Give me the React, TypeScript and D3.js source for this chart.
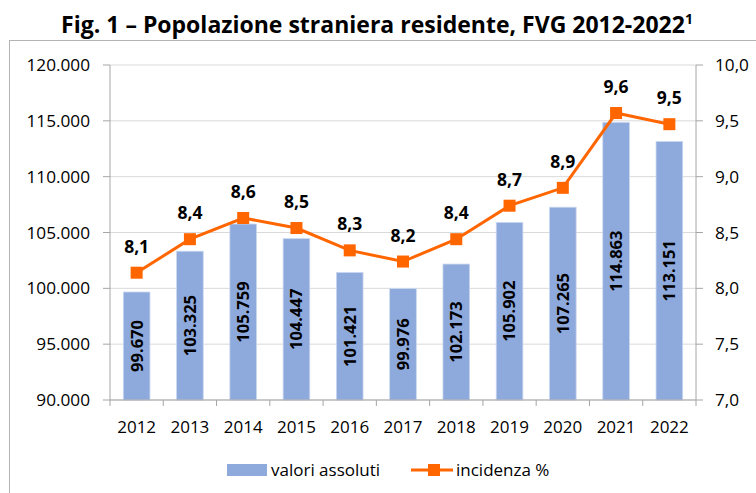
import React from "react";
import * as d3 from "d3";

const years = ["2012", "2013", "2014", "2015", "2016", "2017", "2018", "2019", "2020", "2021", "2022"];
const valoriAssoluti = [99670, 103325, 105759, 104447, 101421, 99976, 102173, 105902, 107265, 114863, 113151];
const incidenza = [8.14, 8.44, 8.63, 8.54, 8.34, 8.24, 8.44, 8.74, 8.9, 9.57, 9.47];
const leftTicks = [90000, 95000, 100000, 105000, 110000, 115000, 120000];
const rightTicks = [7.0, 7.5, 8.0, 8.5, 9.0, 9.5, 10.0];
const titleMain = "Fig. 1 – Popolazione straniera residente, FVG 2012-2022";
const titleSup = "1";
const legendLabels = ["valori assoluti", "incidenza %"];

const W = 756;
const H = 493;
const plot = { left: 110, right: 696, top: 65, bottom: 400 };
const FONT = "'Open Sans', sans-serif";
const BAR = "#8EA9DB";
const ORANGE = "#FF6600";

const itLocale = d3.formatLocale({ decimal: ",", thousands: ".", grouping: [3], currency: ["", ""] });
const fmtThousands = itLocale.format(",.0f");
const fmtOne = itLocale.format(".1f");

export default function App() {
  const x = d3.scaleBand<string>().domain(years).range([plot.left, plot.right]).paddingInner(0.5).paddingOuter(0.25);
  const yL = d3.scaleLinear().domain([90000, 120000]).range([plot.bottom, plot.top]);
  const yR = d3.scaleLinear().domain([7, 10]).range([plot.bottom, plot.top]);
  const step = x.step();
  const bw = x.bandwidth();
  const cx = (y: string) => (x(y) as number) + bw / 2;

  const line = d3
    .line<number>()
    .x((_, i) => cx(years[i]))
    .y((d) => yR(d));

  const boundaries = d3.range(years.length + 1).map((i) => plot.left + i * step);

  return (
    <svg width={W} height={H} style={{ position: "absolute", left: 0, top: 0, background: "#fff" }} fontFamily={FONT}>
      <rect x={0} y={0} width={W} height={H} fill="#fff" />
      {/* title */}
      <text x={377} y={33} textAnchor="middle" fontSize={23} fontWeight="bold" fill="#000">
        {titleMain}
        <tspan fontSize={14} dy={-9}>{titleSup}</tspan>
      </text>
      {/* chart frame */}
      <rect x={9.5} y={40.5} width={W + 20} height={H + 20} fill="none" stroke="#b4b4b4" strokeWidth={1} />

      {/* gridlines */}
      {leftTicks.map((t) => (
        <line key={"g" + t} x1={plot.left} x2={plot.right} y1={yL(t)} y2={yL(t)} stroke="#d9d9d9" strokeWidth={1} />
      ))}

      {/* bars */}
      {valoriAssoluti.map((v, i) => (
        <rect
          key={"b" + i}
          x={x(years[i])}
          y={yL(v)}
          width={bw}
          height={plot.bottom - yL(v)}
          fill={BAR}
          stroke="#c9d7f0"
          strokeWidth={0.8}
        />
      ))}

      {/* left axis */}
      <line x1={plot.left} x2={plot.left} y1={plot.top} y2={plot.bottom} stroke="#a6a6a6" />
      {leftTicks.map((t) => (
        <g key={"lt" + t}>
          <line x1={plot.left - 7} x2={plot.left} y1={yL(t)} y2={yL(t)} stroke="#a6a6a6" />
          <text x={90} y={yL(t) + 6} textAnchor="end" fontSize={17.2} fill="#000">
            {fmtThousands(t)}
          </text>
        </g>
      ))}

      {/* right axis */}
      <line x1={plot.right} x2={plot.right} y1={plot.top} y2={plot.bottom} stroke="#a6a6a6" />
      {rightTicks.map((t) => (
        <g key={"rt" + t}>
          <line x1={plot.right} x2={plot.right + 7} y1={yR(t)} y2={yR(t)} stroke="#a6a6a6" />
          <text x={715} y={yR(t) + 6} textAnchor="start" fontSize={17.2} fill="#000">
            {fmtOne(t)}
          </text>
        </g>
      ))}

      {/* x axis */}
      <line x1={plot.left} x2={plot.right} y1={plot.bottom} y2={plot.bottom} stroke="#a6a6a6" />
      {boundaries.map((b, i) => (
        <line key={"xt" + i} x1={b} x2={b} y1={plot.bottom} y2={plot.bottom + 6} stroke="#a6a6a6" />
      ))}
      {years.map((yr) => (
        <text key={"xl" + yr} x={cx(yr)} y={433} textAnchor="middle" fontSize={17} fill="#000">
          {yr}
        </text>
      ))}

      {/* bar value labels */}
      {valoriAssoluti.map((v, i) => {
        const mx = cx(years[i]);
        const my = (yL(v) + plot.bottom) / 2;
        return (
          <text
            key={"bl" + i}
            transform={`translate(${mx},${my}) rotate(-90)`}
            textAnchor="middle"
            dy="0.36em"
            fontSize={16.5}
            fontWeight="bold"
            fill="#000"
          >
            {fmtThousands(v)}
          </text>
        );
      })}

      {/* line */}
      <path d={line(incidenza) || ""} fill="none" stroke={ORANGE} strokeWidth={3} />
      {incidenza.map((v, i) => (
        <rect key={"m" + i} x={cx(years[i]) - 6} y={yR(v) - 6} width={12} height={12} fill={ORANGE} />
      ))}
      {incidenza.map((v, i) => (
        <text key={"ll" + i} x={cx(years[i])} y={yR(v) - 20} textAnchor="middle" fontSize={17.5} fontWeight="bold" fill="#000">
          {fmtOne(v)}
        </text>
      ))}

      {/* legend */}
      <rect x={227} y={464} width={40} height={12} fill={BAR} />
      <text x={271} y={476} fontSize={17} fill="#000">
        {legendLabels[0]}
      </text>
      <line x1={411} x2={453} y1={470} y2={470} stroke={ORANGE} strokeWidth={3} />
      <rect x={428} y={464} width={12} height={12} fill={ORANGE} />
      <text x={456} y={476} fontSize={17} fill="#000">
        {legendLabels[1]}
      </text>
    </svg>
  );
}
